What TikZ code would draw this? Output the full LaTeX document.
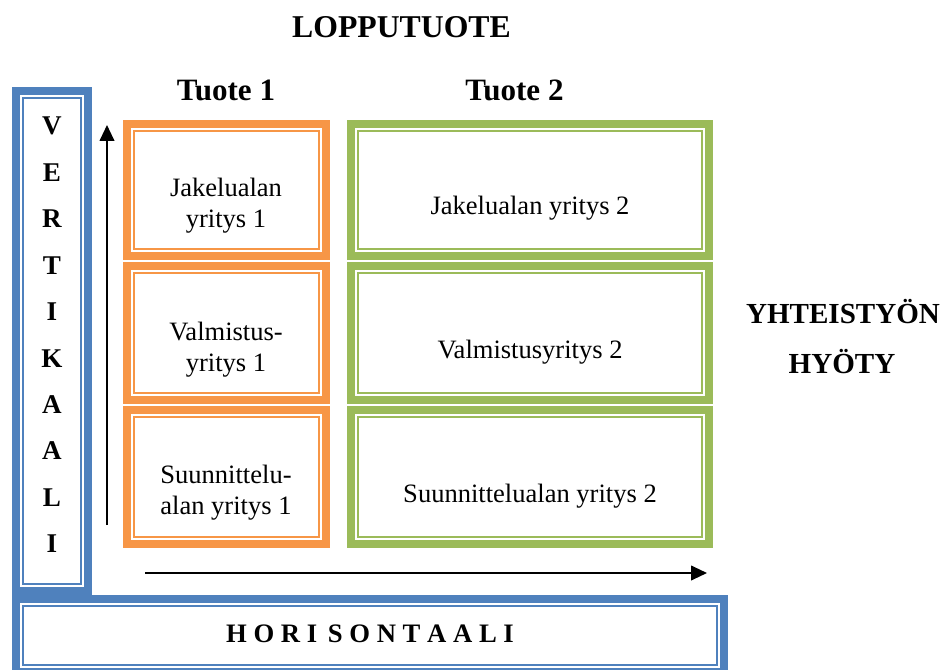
\documentclass[tikz,border=0pt]{standalone}
\usepackage{fontspec}
\setmainfont{Liberation Serif}
\usetikzlibrary{arrows.meta}
\definecolor{fblue}{HTML}{4F81BD}
\definecolor{forange}{HTML}{F79646}
\definecolor{fgreen}{HTML}{9BBB59}
\tikzset{
  frm/.style={draw=#1, line width=6pt, inner sep=0pt, outer sep=0pt,
    path picture={\draw[#1, line width=1.5pt]
      ([shift={(5.25pt,5.25pt)}]path picture bounding box.south west) rectangle
      ([shift={(-5.25pt,-5.25pt)}]path picture bounding box.north east);}},
  body/.style={align=center, inner sep=0pt, font=\fontsize{19.9}{23.4}\selectfont},
  head/.style={inner sep=0pt, anchor=base, font=\fontsize{23.3}{27}\selectfont\bfseries},
  letter/.style={inner sep=0pt, anchor=base, font=\fontsize{20.3}{24}\selectfont\bfseries},
  arr/.style={line width=1.5pt, -{Triangle[length=12pt,width=11pt]}}
}
\newcommand\frameBox[6]{% name, colour, x1, y1, x2, y2
  \node[frm=#2, minimum width={(#5-#3-8)*0.75pt}, minimum height={(#6-#4-8)*0.75pt}]
    (#1) at ({(#3+#5)/2},{(#4+#6)/2}) {};}
\begin{document}
\begin{tikzpicture}[x=0.75pt,y=-0.75pt]
\useasboundingbox (0,0) rectangle (945,670);
\clip (0,0) rectangle (945,670);
% blue frames
\frameBox{vert}{fblue}{12}{87}{92}{595}
\frameBox{hori}{fblue}{12}{595}{728}{676}
% orange column
\frameBox{o1}{forange}{123}{120}{330}{260}
\frameBox{o2}{forange}{123}{262}{330}{404}
\frameBox{o3}{forange}{123}{406}{330}{548}
% green column
\frameBox{g1}{fgreen}{347}{120}{713}{260}
\frameBox{g2}{fgreen}{347}{262}{713}{404}
\frameBox{g3}{fgreen}{347}{406}{713}{548}
% texts in boxes
\node[body] (o1t) at (226,206) {Jakelualan\\yritys 1};
\node[body] (o2t) at (226,350) {Valmistus-\\yritys 1};
\node[body] (o3t) at (226,493) {Suunnittelu-\\alan yritys 1};
\node[body] (g1t) at (530,208) {Jakelualan yritys 2};
\node[body] (g2t) at (530,352) {Valmistusyritys 2};
\node[body] (g3t) at (530,496) {Suunnittelualan yritys 2};
% headings
\node[head, font=\fontsize{23.8}{28}\selectfont\bfseries] (lopp) at (401.5,37.5) {LOPPUTUOTE};
\node[head] (tu1) at (226,101) {Tuote 1};
\node[head] (tu2) at (514.5,101) {Tuote 2};
\node[head, font=\fontsize{21.8}{26}\selectfont\bfseries] (yht) at (843,323) {YHTEISTYÖN};
\node[head, font=\fontsize{21.8}{26}\selectfont\bfseries] (hyo) at (842,373) {HYÖTY};
% vertical letters
\foreach \l [count=\i from 0] in {V,E,R,T,I,K,A,A,L,I}{
  \node[letter] (v\i) at (52,{135+46.4*\i}) {\l};
}
\node[letter, font=\fontsize{20}{24}\selectfont\bfseries] (horit) at (370,642) {H O R I\hspace{3pt} S O N T A A L I};
% arrows
\coordinate (va1) at (107,525);
\coordinate (va2) at (107,125);
\coordinate (ha1) at (145,573);
\coordinate (ha2) at (707,573);
\draw[arr] (va1) -- (va2);
\draw[arr] (ha1) -- (ha2);
\end{tikzpicture}
\end{document}
